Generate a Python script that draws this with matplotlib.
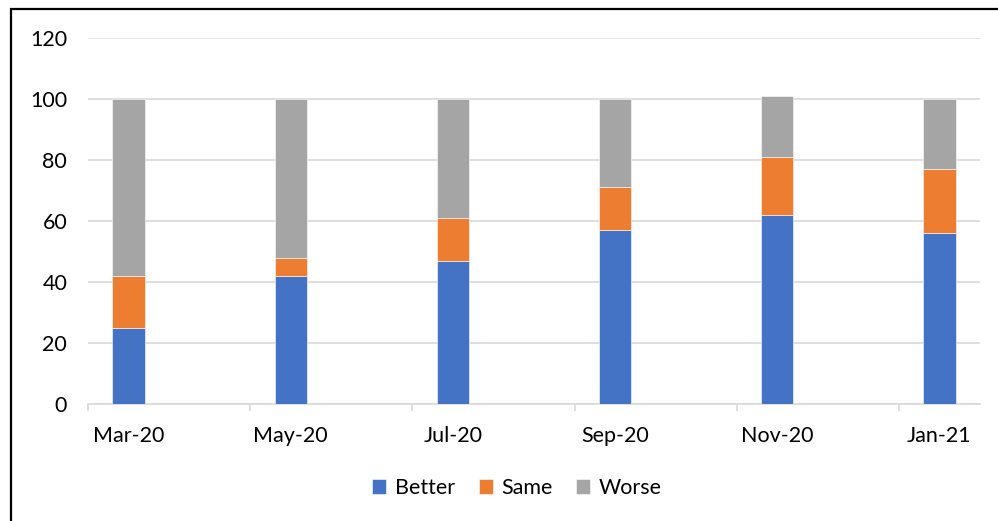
import matplotlib.pyplot as plt
from matplotlib.patches import Rectangle

months = ['Mar-20', 'May-20', 'Jul-20', 'Sep-20', 'Nov-20', 'Jan-21']
better = [25, 42, 47, 57, 62, 56]
same = [17, 6, 14, 14, 19, 21]
worse = [58, 52, 39, 29, 20, 23]

colors = {'Better': '#4472C4', 'Same': '#ED7D31', 'Worse': '#A5A5A5'}


def month_offset(label):
    # miesiące od Mar-20 (oś datowa jak w Excelu)
    names = ['Jan', 'Feb', 'Mar', 'Apr', 'May', 'Jun', 'Jul', 'Aug', 'Sep', 'Oct', 'Nov', 'Dec']
    m, y = label.split('-')
    return (int(y) - 20) * 12 + names.index(m) - 2


def main():
    plt.rcParams['font.family'] = ['Lato', 'DejaVu Sans']
    fig = plt.figure(figsize=(9.98, 5.21), dpi=100)
    ax = fig.add_axes([88 / 998, 1 - 404 / 521, (980 - 88) / 998, (404 - 38) / 521])

    x = [month_offset(m) for m in months]
    bottom2 = [b + s for b, s in zip(better, same)]
    w = 0.4
    ax.bar(x, better, w, color=colors['Better'], label='Better', edgecolor='white', linewidth=0.4, zorder=3)
    ax.bar(x, same, w, bottom=better, color=colors['Same'], label='Same', edgecolor='white', linewidth=0.4, zorder=3)
    ax.bar(x, worse, w, bottom=bottom2, color=colors['Worse'], label='Worse', edgecolor='white', linewidth=0.4, zorder=3)

    ax.set_ylim(0, 120)
    ax.set_yticks(range(0, 121, 20))
    ax.set_xlim(x[0] - 0.5, x[-1] + 0.5)
    ax.set_xticks(x)
    ax.set_xticklabels(months)
    ax.set_xticks([v - 0.5 for v in x], minor=True)
    ax.grid(axis='y', color='#D9D9D9', linewidth=1.2, zorder=0)

    for s in ['top', 'right', 'left']:
        ax.spines[s].set_visible(False)
    ax.spines['bottom'].set_color('#D9D9D9')
    ax.spines['bottom'].set_linewidth(1.2)

    ax.tick_params(axis='y', length=0, pad=15, labelsize=15.5, colors='black')
    ax.tick_params(axis='x', which='major', length=0, pad=16, labelsize=15.5)
    ax.tick_params(axis='x', which='minor', length=5, width=1.2, color='#D9D9D9')

    fig.legend(loc='center', bbox_to_anchor=(517 / 998, 1 - 488 / 521), ncol=3, frameon=False,
               fontsize=15.5, handlelength=0.65, handleheight=0.65, handletextpad=0.4, columnspacing=1.1)

    # ramka wokół wykresu
    fig.patches.append(Rectangle((11 / 998, -0.1), 1.2, 1 - 9 / 521 + 0.1, transform=fig.transFigure,
                                 fill=False, edgecolor='black', linewidth=1.6))

    plt.savefig('out.png', dpi=100)


if __name__ == '__main__':
    main()
